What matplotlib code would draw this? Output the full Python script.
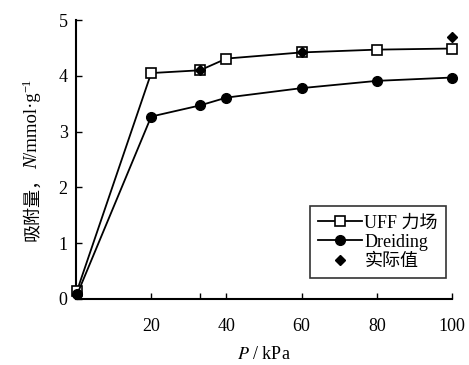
import matplotlib.pyplot as plt

plt.rcParams['font.family'] = ['Liberation Serif', 'Noto Sans CJK SC']
plt.rcParams['mathtext.fontset'] = 'stix'

p = [0.3, 20, 33, 40, 60, 80, 100]
uff = [0.15, 4.05, 4.10, 4.31, 4.42, 4.47, 4.49]
dreiding = [0.08, 3.27, 3.47, 3.61, 3.78, 3.91, 3.97]
p_real = [33, 60, 100]
real = [4.10, 4.42, 4.69]

xticks = [20, 33, 40, 60, 80, 100]
xlabels = ['20', '', '40', '60', '80', '100']

fig = plt.figure(figsize=(4.69, 3.65), dpi=100)
ax = fig.add_axes([0.162, 0.181, 0.802, 0.764])

ax.plot(p, uff, '-s', color='black', lw=1.3, ms=6.5, mfc='white', mew=1.2,
        label='UFF 力场', clip_on=False, zorder=3)
ax.plot(p, dreiding, '-o', color='black', lw=1.3, ms=7, label='Dreiding',
        clip_on=False, zorder=3)
ax.plot(p_real, real, 'D', color='black', ms=5.5, ls='none', label='实际值',
        clip_on=False, zorder=4)

ax.set_xlim(0, 100)
ax.set_ylim(0, 5)
ax.set_xticks(xticks)
ax.set_xticklabels(xlabels)
ax.set_yticks([0, 1, 2, 3, 4, 5])
ax.tick_params(direction='in', labelsize=13, length=4, width=1)
ax.tick_params(axis='x', pad=14)
ax.tick_params(axis='y', pad=6)
ax.spines['top'].set_visible(False)
ax.spines['right'].set_visible(False)
for s in ['left', 'bottom']:
    ax.spines[s].set_linewidth(1.5)

ax.set_xlabel('$P$ / kPa', fontsize=13, labelpad=8)

leg = ax.legend(loc='lower right', bbox_to_anchor=(0.984, 0.075), fontsize=13,
                frameon=True, fancybox=False, edgecolor='black', handlelength=2.4,
                borderpad=0.45, labelspacing=0.12, handletextpad=0.15,
                borderaxespad=0)
leg.get_frame().set_linewidth(1.2)

# y label built from pieces (CJK + italic N + superscript)
pieces = [
    ('吸附量，', dict(family=['Noto Sans CJK SC']), 13, 0),
    ('N', dict(family=['Liberation Serif'], style='italic'), 13.5, 0),
    ('/mmol·g', dict(family=['Liberation Serif']), 13.5, 0),
    ('−1', dict(family=['Liberation Serif']), 9, 7),
]
fig.canvas.draw()
r = fig.canvas.get_renderer()
texts = []
total = 0
for s, kw, size, rise in pieces:
    t = fig.text(0, 0, s, fontsize=size, rotation=90, rotation_mode='anchor',
                 ha='left', va='baseline', transform=None, **kw)
    h = t.get_window_extent(r).height
    texts.append((t, h, rise))
    total += h
base_x = 37
y = (365 - 160) - total / 2
for t, h, rise in texts:
    t.set_position((base_x - rise, y))
    y += h

fig.savefig('out.png', dpi=100)
